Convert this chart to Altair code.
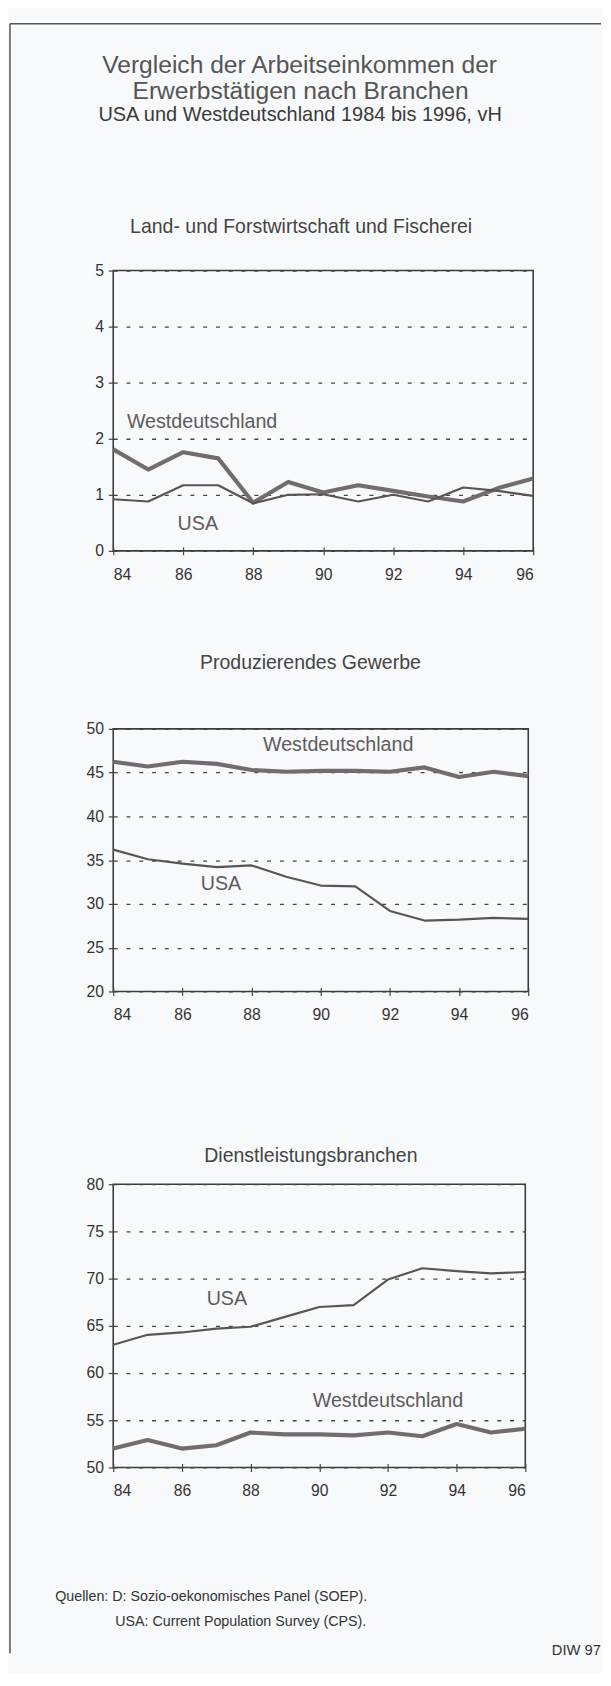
import altair as alt
import pandas as pd

# ---------------- data ----------------
years = [84, 85, 86, 87, 88, 89, 90, 91, 92, 93, 94, 95, 96]

agr_wd = [1.81, 1.45, 1.76, 1.65, 0.86, 1.23, 1.04, 1.17, 1.07, 0.97, 0.88, 1.12, 1.29]
agr_usa = [0.92, 0.88, 1.17, 1.17, 0.85, 1.00, 1.01, 0.88, 1.00, 0.88, 1.13, 1.07, 0.98]

ind_wd = [46.25, 45.7, 46.25, 46.0, 45.3, 45.1, 45.2, 45.2, 45.1, 45.6, 44.5, 45.1, 44.6]
ind_usa = [36.2, 35.1, 34.6, 34.2, 34.4, 33.1, 32.1, 32.0, 29.2, 28.1, 28.2, 28.4, 28.3]

srv_usa = [63.0, 64.05, 64.3, 64.7, 64.9, 65.95, 67.0, 67.2, 69.9, 71.1, 70.8, 70.55, 70.7]
srv_wd = [52.0, 52.9, 52.0, 52.35, 53.7, 53.5, 53.5, 53.4, 53.7, 53.3, 54.6, 53.7, 54.1]

series_names = ["Westdeutschland", "USA"]

title_lines = ["Vergleich der Arbeitseinkommen der", "Erwerbstätigen nach Branchen"]
subtitle = "USA und Westdeutschland 1984 bis 1996, vH"
panel_titles = ["Land- und Forstwirtschaft und Fischerei", "Produzierendes Gewerbe",
                "Dienstleistungsbranchen"]
source_lines = ["Quellen: D: Sozio-oekonomisches Panel (SOEP).",
                "USA: Current Population Survey (CPS)."]
credit = "DIW 97"

# label anchor positions (data coordinates) for the in-plot series labels
agr_lbl = {"year": [84.39, 85.84], "value": [2.30, 0.47]}
ind_lbl = {"year": [88.33, 86.53], "value": [48.09, 32.25]}
srv_lbl = {"year": [89.81, 86.72], "value": [57.08, 67.81]}

# ---------------- styling ----------------
FONT = "Liberation Sans"
WD_COLOR = "#726c71"
US_COLOR = "#5a5458"
TXT = "#333333"
BG = "#f8f9fa"


def txt(text, x, y, size, color, align="center"):
    return alt.Chart(pd.DataFrame({"t": [text]})).mark_text(
        align=align, baseline="middle", fontSize=size, color=color, font=FONT
    ).encode(x=alt.value(x), y=alt.value(y), text="t:N")


def panel(wd, usa, lbl, ymin, ymax, ystep, width, height, extra):
    df_wd = pd.DataFrame({"year": years, "value": wd})
    df_us = pd.DataFrame({"year": years, "value": usa})
    df_lbl = pd.DataFrame({"year": lbl["year"], "value": lbl["value"], "label": series_names})

    x = alt.X("year:Q",
              scale=alt.Scale(domain=[84, 96], nice=False, zero=False),
              axis=alt.Axis(values=years,
                            labelExpr="datum.value % 2 == 0 ? datum.value : ''",
                            offset=-4, tickSize=8, domain=False, grid=False,
                            labelPadding=12, title=None, labelFontSize=16,
                            labelColor=TXT, tickColor="#444", tickWidth=1.2,
                            labelFont=FONT))
    y = alt.Y("value:Q",
              scale=alt.Scale(domain=[ymin, ymax], nice=False, zero=False),
              axis=alt.Axis(values=list(range(ymin, ymax + 1, ystep)), title=None,
                            format="d", domain=False, tickSize=5, labelPadding=5,
                            grid=True, gridDash=[4, 9], gridColor="#444", gridWidth=1.3,
                            labelFontSize=16, labelColor=TXT, tickColor="#444",
                            tickWidth=1.2, labelFont=FONT))

    wd_line = alt.Chart(df_wd).mark_line(color=WD_COLOR, strokeWidth=4.2,
                                         strokeJoin="round").encode(x=x, y=y)
    us_line = alt.Chart(df_us).mark_line(color=US_COLOR, strokeWidth=2.2,
                                         strokeJoin="round").encode(x=x, y=y)
    labels = alt.Chart(df_lbl).mark_text(align="left", baseline="middle", fontSize=20,
                                         color="#5e5a5d", font=FONT).encode(
        x="year:Q", y="value:Q", text="label:N")
    return alt.layer(wd_line, us_line, labels, *extra).properties(
        width=width, height=height,
        view=alt.ViewBackground(stroke="#3c3c3c", strokeWidth=1.6))


def spacer(h):
    return alt.Chart(pd.DataFrame({"a": [0]})).mark_point(opacity=0).encode(
        x=alt.value(0), y=alt.value(0)
    ).properties(width=1, height=h, view=alt.ViewBackground(strokeWidth=0, strokeOpacity=0))


border = alt.Chart(pd.DataFrame({"a": [0]}))
left_border = border.mark_rule(color="#555", strokeWidth=1.5).encode(
    x=alt.value(-105), y=alt.value(-251), y2=alt.value(1406))
top_border = border.mark_rule(color="#555", strokeWidth=1.5).encode(
    x=alt.value(-105), x2=alt.value(496), y=alt.value(-251))

p1_extra = [
    left_border, top_border,
    txt(title_lines[0], 189.5, -209, 25, "#555"),
    txt(title_lines[1], 190.5, -182, 25, "#555"),
    txt(subtitle, 190, -158, 20.3, "#3a3a3a"),
    txt(panel_titles[0], 191, -44, 19.8, "#444"),
]
p2_extra = [txt(panel_titles[1], 200.5, -67, 19.8, "#444")]
p3_extra = [
    txt(panel_titles[2], 201, -29, 19.8, "#444"),
    txt(source_lines[0], -59, 420, 14.5, TXT, align="left"),
    txt(source_lines[1], 2, 445, 14.5, TXT, align="left"),
    txt(credit, 496, 474, 15, TXT, align="right"),
]

p1 = panel(agr_wd, agr_usa, agr_lbl, 0, 5, 1, 427, 285, p1_extra)
p2 = panel(ind_wd, ind_usa, ind_lbl, 20, 50, 5, 422, 267, p2_extra)
p3 = panel(srv_wd, srv_usa, srv_lbl, 50, 80, 5, 419, 288, p3_extra)

chart = alt.vconcat(p1, spacer(181), p2, spacer(196), p3, spacing=0, bounds="flush").properties(
    padding=0, background=BG
).configure(font=FONT)

chart.save("out.html", embed_options={"renderer": "svg", "actions": False})
